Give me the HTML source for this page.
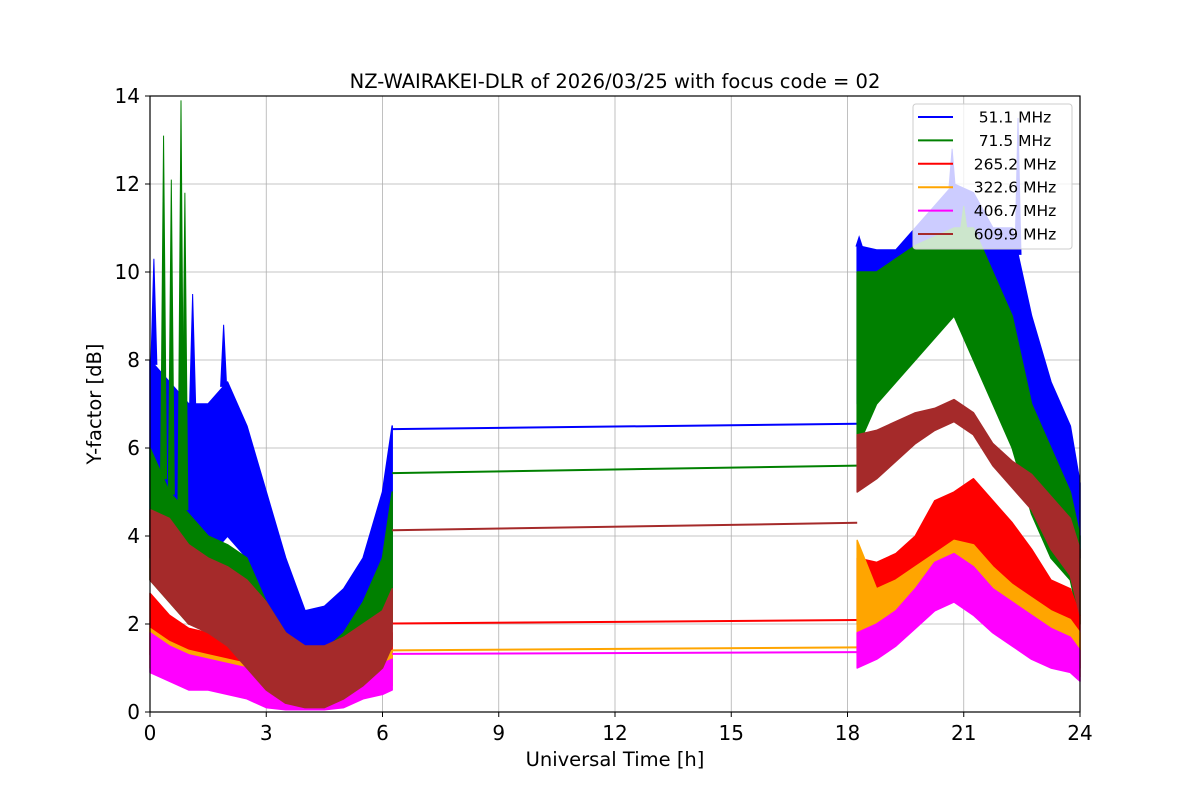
<!DOCTYPE html>
<html><head><meta charset="utf-8"><style>
body{margin:0;background:#fff}
svg text{font-family:"DejaVu Sans","Liberation Sans",sans-serif}
</style></head><body>
<svg id="chart" width="1200" height="800" viewBox="0 0 1200 800">
<rect width="1200" height="800" fill="#fff"/>
<text x="615" y="88" font-size="19.5" text-anchor="middle">NZ-WAIRAKEI-DLR of 2026/03/25 with focus code = 02</text>
<g id="grid"></g>
<g id="series"></g>
<rect x="150" y="96" width="930" height="616" fill="none" stroke="#000" stroke-width="1.2"/>
<g id="ticks"></g>
<text x="615" y="766" font-size="19.5" text-anchor="middle">Universal Time [h]</text>
<text transform="translate(101,404) rotate(-90)" font-size="19.5" text-anchor="middle">Y-factor [dB]</text>
<g id="legend"></g>
</svg>
<script>
const names=["51.1 MHz","71.5 MHz","265.2 MHz","322.6 MHz","406.7 MHz","609.9 MHz"];
const colors=["#0000ff","#008000","#ff0000","#ffa500","#ff00ff","#a52a2a"];
const t1=[0,0.5,1,1.5,2,2.5,3,3.5,4,4.5,5,5.5,6,6.25];
const t2=[18.25,18.75,19.25,19.75,20.25,20.75,21.25,21.75,22.25,22.75,23.25,23.75,24];
const lo1=[[3.5,3.5,3,3.5,4,3.5,2,1,0.8,1,1.3,1.8,2,2.5],[3,2.5,2,2,2,1.5,1.2,0.8,0.6,0.8,1,1.3,1.8,2],[1.3,1.2,1,0.9,0.8,0.6,0.4,0.3,0.3,0.3,0.5,0.7,0.8,1],[1,0.9,0.7,0.6,0.5,0.4,0.2,0.1,0.1,0.1,0.2,0.4,0.5,0.6],[0.9,0.7,0.5,0.5,0.4,0.3,0.1,0.05,0.05,0.05,0.1,0.3,0.4,0.5],[3,2.5,2,1.8,1.5,1,0.5,0.2,0.1,0.1,0.3,0.6,1,1.5]];
const hi1=[[8,7.5,7,7,7.5,6.5,5,3.5,2.3,2.4,2.8,3.5,5,6.5],[6,5,4.5,4,3.8,3.5,2.5,1.8,1.3,1.4,1.8,2.5,3.5,5],[2.7,2.2,1.9,1.8,1.6,1.4,1.1,0.9,0.8,0.8,1,1.3,1.6,1.8],[1.9,1.6,1.4,1.3,1.2,1.1,0.8,0.6,0.6,0.6,0.8,1,1.2,1.4],[1.8,1.5,1.3,1.2,1.1,1,0.7,0.5,0.5,0.5,0.7,0.9,1.1,1.2],[4.6,4.4,3.8,3.5,3.3,3,2.5,1.8,1.5,1.5,1.7,2,2.3,2.8]];
const lo2=[[7,7.5,8,8.5,9,9.5,9,8,7,6,5,4.5,3.5],[6,7,7.5,8,8.5,9,8,7,6,4.5,3.5,3,2],[2,2.3,2.5,3,3.6,3.9,3.6,3.1,2.6,2.1,1.8,1.5,1],[1.3,1.4,1.6,2,2.5,2.8,2.5,2.2,1.8,1.5,1.2,1,0.8],[1,1.2,1.5,1.9,2.3,2.5,2.2,1.8,1.5,1.2,1,0.9,0.7],[5,5.3,5.7,6.1,6.4,6.6,6.3,5.6,5.1,4.6,3.7,3.1,2.2]];
const hi2=[[10.6,10.5,10.5,11,11.5,12,11.8,11,11,9,7.5,6.5,5.2],[10,10,10.3,10.6,10.8,11,11,10,9,7,6,5,4],[3.5,3.4,3.6,4,4.8,5,5.3,4.8,4.3,3.7,3,2.8,2.2],[3.9,2.8,3,3.3,3.6,3.9,3.8,3.3,2.9,2.6,2.3,2.1,1.8],[1.8,2,2.3,2.8,3.4,3.6,3.3,2.8,2.5,2.2,1.9,1.7,1.4],[6.3,6.4,6.6,6.8,6.9,7.1,6.8,6.1,5.7,5.4,4.9,4.4,3.7]];
const spikeSeries=[0,0,0,0,1,1,1,1,0,0,1];
const spikeT=[0.1,1.1,1.9,20.7,0.35,0.55,0.8,0.9,22.4,18.3,21];
const spikeV=[10.3,9.5,8.8,12.8,13.1,12.1,13.9,11.8,13.5,10.8,11.5];
const gapStart=[6.43,5.43,2.01,1.4,1.32,4.13];
const gapEnd=[6.55,5.6,2.09,1.47,1.36,4.3];
const gapT=[6.25,18.25];
const xTicks=[0,3,6,9,12,15,18,21,24];
const yTicks=[0,2,4,6,8,10,12,14];

const NS="http://www.w3.org/2000/svg";
const X=v=>150+v/24*930, Y=v=>712-v/14*616;
function mk(tag,attrs,parent){const e=document.createElementNS(NS,tag);for(const k in attrs)e.setAttribute(k,attrs[k]);parent.appendChild(e);return e;}
const grid=document.getElementById('grid'),ticks=document.getElementById('ticks'),ser=document.getElementById('series'),leg=document.getElementById('legend');
xTicks.forEach(v=>{
 const g=mk('line',{x1:X(v),x2:X(v),y1:96,y2:712,stroke:'#b0b0b0','stroke-width':0.8},grid);
 
 
 mk('line',{x1:X(v),x2:X(v),y1:712,y2:717,stroke:'#000'},ticks);
 const t=mk('text',{x:X(v),y:740,'font-size':20,'text-anchor':'middle'},ticks);t.textContent=v;
 
 
});
yTicks.forEach(v=>{
 const g=mk('line',{x1:150,x2:1080,y1:Y(v),y2:Y(v),stroke:'#b0b0b0','stroke-width':0.8},grid);
 
 
 mk('line',{x1:145,x2:150,y1:Y(v),y2:Y(v),stroke:'#000'},ticks);
 const t=mk('text',{x:140,y:Y(v)+7,'font-size':20,'text-anchor':'end'},ticks);t.textContent=v;
 
 
});
function band(ts,lo,hi){
 let p=ts.map((t,i)=>X(t)+','+Y(hi[i]));
 for(let i=ts.length-1;i>=0;i--)p.push(X(ts[i])+','+Y(lo[i]));
 return p.join(' ');
}
names.forEach((n,s)=>{
 const g=mk('g',{},ser);
 
 
 [[t1,lo1[s],hi1[s]],[t2,lo2[s],hi2[s]]].forEach(([ts,lo,hi])=>{
  const b=mk('polygon',{points:band(ts,lo,hi),fill:colors[s],stroke:colors[s],'stroke-width':1.5,'stroke-linejoin':'round'},g);
  
  
 });
 spikeT.forEach((t,i)=>{
  if(spikeSeries[i]!==s)return;
  const seg=t<12?t1:t2, hiArr=t<12?hi1[s]:hi2[s];
  let j=0;while(j<seg.length-2&&seg[j+1]<t)j++;
  const base=hiArr[j]+(hiArr[j+1]-hiArr[j])*(t-seg[j])/(seg[j+1]-seg[j]);
  const sp=mk('polygon',{points:[X(t)-3+','+Y(base),X(t)+','+Y(spikeV[i]),X(t)+3+','+Y(base)].join(' '),fill:colors[s],stroke:colors[s],'stroke-width':1},g);
  
  
 });
 const l=mk('line',{x1:X(gapT[0]),y1:Y(gapStart[s]),x2:X(gapT[1]),y2:Y(gapEnd[s]),stroke:colors[s],'stroke-width':2},g);
 
 
});
const box=mk('rect',{x:913,y:104,width:159,height:145,rx:3,fill:'rgba(255,255,255,0.8)',stroke:'#ccc'},leg);


names.forEach((n,i)=>{
 const y=117+i*23.4;
 const g=mk('g',{},leg);
 
 
 mk('line',{x1:918,x2:953,y1:y,y2:y,stroke:colors[i],'stroke-width':2},g);
 const t=mk('text',{x:1015,y:y+5.5,'font-size':15.5,'text-anchor':'middle'},g);t.textContent=n;
});
</script>
</body></html>
